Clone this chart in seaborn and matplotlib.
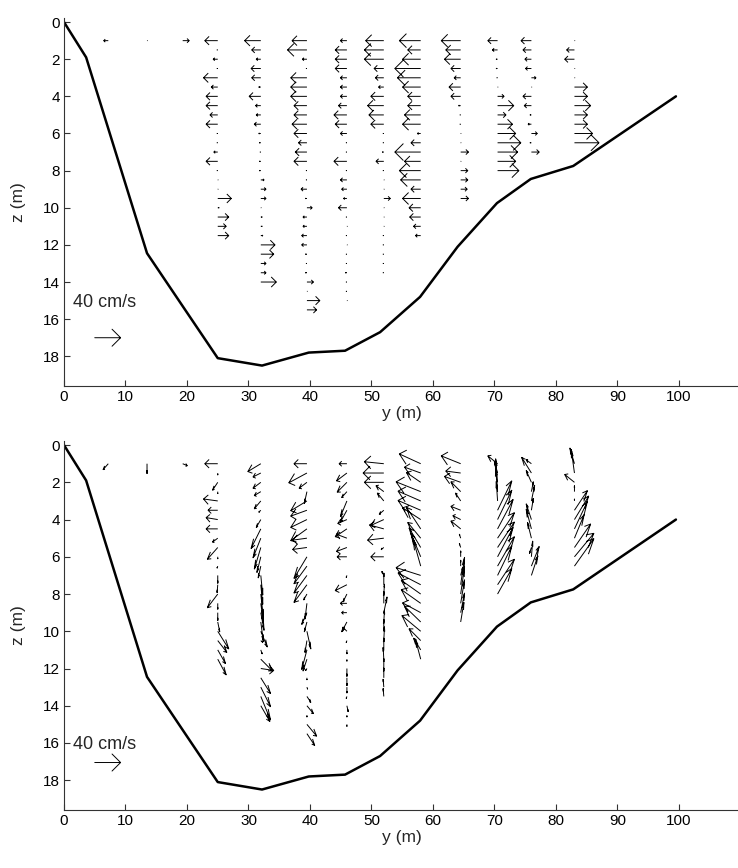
import numpy as np
import matplotlib
matplotlib.use("Agg")
import matplotlib.pyplot as plt
import seaborn as sns
import pandas as pd

# ---------------------------------------------------------------------------
# Channel cross-section (lateral position y, depth z), metres
bed_y = [0.0, 3.6, 13.5, 19.5, 25.0, 32.2, 39.8, 45.7, 51.4, 57.9, 64.0, 70.4, 75.9, 82.8, 99.5]
bed_z = [0.0, 1.9, 12.45, 15.4, 18.1, 18.5, 17.8, 17.7, 16.7, 14.8, 12.1, 9.75, 8.45, 7.75, 4.0]

# ADCP verticals: lateral station and deepest bin (bins every 0.5 m from 1 m)
station_y = [25.0, 32.0, 39.5, 46.0, 52.0, 58.0, 64.5, 70.5, 76.0, 83.0]
station_zmax = [11.5, 14.0, 15.5, 15.0, 13.5, 11.5, 9.5, 8.0, 7.0, 6.5]
BIN_TOP, BIN_STEP = 1.0, 0.5

# near-surface single points
surf_y = [7.2, 13.5, 19.3]
surf_z = [1.0, 1.0, 1.0]

# --- upper panel: lateral velocity only (cm/s)
surf_v_a = [-7, 0.5, 10]
v_a_25 = [-20, -1, -7, -1, -22, -10, -18, -18, -12, -18, -1, -1, -6, -18, -1, 0.5, 0.5, 21, 2, 17, 13, 17]
v_a_32 = [-25, -14, -7, -15, -14, -3, -18, -8, -7, -10, -3, -2, -1, -2, -2, 5, 8, 8, 0.5, 2, 2, 3, 22, 20, 8, 8, 24]
v_a_39 = [-23, -30, -7, -1, -25, -25, -25, -20, -20, -23, -20, -13, -18, -20, -1, -1, -9, -2, 8, -6,
          -6, -8, -8, -2, -1, -2, 10, 0.5, 20, 15]
v_a_46 = [-10, -18, -18, -18, -10, -10, -10, -13, -20, -18, -10, -1, -1, -20, -1, -10, -8, -5, -13, -1,
          0.5, -1, 0.5, -1, -1, -2, -1, -1, 0.5]
v_a_52 = [-28, -30, -30, -15, -13, -8, -20, -25, -23, -20, -1, -1, -2, -12, -1, 0.5, 0.5, 10, 0.5, 0.5,
          0.5, -1, -1, -1, -1, -1]
v_a_58 = [-33, -20, -28, -40, -36, -28, -20, -20, -25, -28, -5, -15, -40, -25, -33, -31, -15, -28, -18, -17,
          -11, -8]
v_a_64 = [-30, -23, -25, -15, -10, -18, -15, -3, -1, -1, 0.5, 0.5, 12, 0.5, 11, 11, 10, 12]
v_a_70 = [-15, -8, -2, -2, -1, 0.5, 10, 25, 13, 23, 28, 36, 31, 28, 33]
v_a_76 = [-16, -13, -10, -9, 7, 0.5, -13, -11, -2, -5, 9, -2, 12]
v_a_83 = [0.5, -12, -15, 0.5, 0.5, 20, 20, 25, 20, 20, 28, 38]

# --- lower panel: lateral velocity v and vertical velocity w (upward positive), cm/s
surf_v_b = [-8, 0, 7]
surf_w_b = [-3, -5, -1]
v_b_25 = [-20, 0, -8, 0, -22, -15, -18, -18, -8, -16, 0, -1, 0, -1, -16, 0, 0, 3, 17, 14, 12, 13]
w_b_25 = [0, -1, -4, -1, 1, 0, 1, 0, -2, -6, -1, -1, -4, -4, -7, -3, -4, -5, -9, -6, -7, -8]
v_b_32 = [-20, -12, -12, -10, -10, -3, -7, -15, -12, -10, -6, -4, 3, 3, 4, 4, 5, 4, 10, 3, 2, 18, 20, 15,
          15, 15, 14]
w_b_32 = [-4, -2, -3, -2, -4, -1, -4, -10, -10, -11, -8, -6, -10, -10, -12, -10, -9, -10, -8, -1, -2, -6,
          -1, -8, -10, -12, -8]
v_b_39 = [-20, -28, -12, -4, -25, -25, -25, -25, -22, -22, -20, -20, -20, -20, -5, -3, -8, -4, 6, -3,
          -8, -6, -2, 0, 1, 6, 10, 0, 15, 12]
w_b_39 = [0, -5, -3, -6, -5, -3, -4, -6, -1, -1, -11, -9, -9, -9, -3, -8, -6, -5, -9, -6,
          -10, -6, -1, -1, -1, -3, -4, -1, -6, -6]
v_b_46 = [-12, -16, -15, -8, -10, -10, -14, -18, -16, -16, -15, 0, -1, -18, -6, -10, -8, -8, -6, -1,
          0, 0, 0, 0, 0, -1, 2, 0, 0]
w_b_46 = [0, -4, -5, -3, -8, -6, -2, -4, 2, -2, 0, 0, -1, -3, -4, 0, 0, -5, 2, -1,
          -2, -1, -4, -4, -3, -1, -3, -1, -1]
v_b_52 = [-30, -32, -30, -12, -10, -7, -20, -22, -25, -4, -20, 0, -3, 0, 1, 0, 5, 1, 0, 1,
          0, -1, 0, 0, -1, -1]
w_b_52 = [1, 0, 0, 3, 4, -2, -3, 2, -1, -1, 0, 0, 2, 6, 5, 6, 8, 6, 6, 7,
          6, 6, 5, 5, 4, 4]
v_b_58 = [-33, -25, -22, -38, -35, -35, -28, -22, -20, -18, -15, -12, -38, -35, -30, -30, -28, -25, -29, -18,
          -11, -8]
w_b_58 = [5, 3, 5, 5, 5, 5, 6, 11, 8, 10, 12, 14, 4, 6, 7, 7, 5, 8, 8, 6,
          6, 10]
v_b_64 = [-30, -23, -25, -15, -8, -15, -12, -15, -2, -2, 0, 0, 3, 6, 6, 6, 6, 5]
w_b_64 = [4, 1, 3, 5, 4, 2, 2, 4, 2, 2, 3, 3, 4, 14, 14, 12, 10, 10]
v_b_70 = [-15, -5, -3, -3, -2, 22, 22, 24, 26, 26, 24, 26, 22, 26, 22]
w_b_70 = [4, 6, 12, 12, 10, 15, 15, 15, 13, 13, 15, 15, 15, 13, 13]
v_b_76 = [-8, -15, -8, 3, 5, 3, -8, -8, -6, -3, 2, 12, 10]
w_b_76 = [2, 8, 6, 5, 8, 6, 8, 10, 8, -3, 8, 10, 10]
v_b_83 = [-7, -5, -15, 0, 0, 20, 22, 20, 15, 25, 30, 30]
w_b_83 = [8, 12, 4, 3, 1, 10, 12, 14, 12, 12, 12, 14]

ref_speed = 40          # cm/s, scale arrow
ref_label = "40 cm/s"

# plot scale: metres of plot per cm/s
SCALE = 4.2 / ref_speed


def build_frame(v_lists, w_lists, sv, sw):
    rows = []
    for y0, zmax, vs, ws in zip(station_y, station_zmax, v_lists, w_lists):
        zs = np.arange(BIN_TOP, zmax + 1e-6, BIN_STEP)
        for z0, v, w in zip(zs, vs, ws):
            rows.append((y0, z0, v, w))
    rows += list(zip(surf_y, surf_z, sv, sw))
    return pd.DataFrame(rows, columns=["y", "z", "v", "w"])


def arrow_xy(df):
    """Arrow polylines (shaft + open head), quiver style in data coordinates."""
    alpha = beta = 0.33
    xs, zs = [], []
    for y0, z0, v, w in df[["y", "z", "v", "w"]].itertuples(index=False):
        du = v * SCALE
        dv = -w * SCALE          # depth axis points downward
        xt, zt = y0 + du, z0 + dv
        xs += [y0, xt, np.nan,
               xt - alpha * (du + beta * dv), xt, xt - alpha * (du - beta * dv), np.nan]
        zs += [z0, zt, np.nan,
               zt - alpha * (dv - beta * du), zt, zt - alpha * (dv + beta * du), np.nan]
    return np.array(xs), np.array(zs)


upper_v = [v_a_25, v_a_32, v_a_39, v_a_46, v_a_52, v_a_58, v_a_64, v_a_70, v_a_76, v_a_83]
upper = build_frame(upper_v, [[0] * len(a) for a in upper_v], surf_v_a, [0, 0, 0])
lower = build_frame([v_b_25, v_b_32, v_b_39, v_b_46, v_b_52, v_b_58, v_b_64, v_b_70, v_b_76, v_b_83],
                    [w_b_25, w_b_32, w_b_39, w_b_46, w_b_52, w_b_58, w_b_64, w_b_70, w_b_76, w_b_83],
                    surf_v_b, surf_w_b)
# scale-arrow position and label depth for each panel
reference = {"upper": (5.0, 17.0, 15.1), "lower": (5.0, 17.05, 16.1)}
bed = pd.DataFrame({"y": bed_y, "z": bed_z})

sns.set_theme(style="ticks")
plt.rcParams["font.family"] = ["Liberation Sans", "DejaVu Sans"]
plt.rcParams.update({
    "xtick.direction": "in", "ytick.direction": "in",
    "xtick.major.size": 4, "ytick.major.size": 4,
    "xtick.major.width": 0.8, "ytick.major.width": 0.8,
    "axes.linewidth": 0.8, "axes.edgecolor": "#333333",
    "xtick.color": "#333333", "ytick.color": "#333333",
    "xtick.labelcolor": "black", "ytick.labelcolor": "black",
})

fig = plt.figure(figsize=(7.38, 8.68), dpi=100)
W = 676.5 / 738
ax_top = fig.add_axes([64 / 738, 1 - 386 / 868, W, 368 / 868])
ax_bot = fig.add_axes([64 / 738, 1 - 810 / 868, W, 369 / 868])

for ax, df, key in [(ax_top, upper, "upper"), (ax_bot, lower, "lower")]:
    xs, zs = arrow_xy(df)
    ax.plot(xs, zs, color="black", lw=0.7, solid_capstyle="butt")
    sns.lineplot(data=bed, x="y", y="z", sort=False, estimator=None, color="black", lw=1.8, ax=ax)

    rx, rz, tz = reference[key]
    ref = pd.DataFrame({"y": [rx], "z": [rz], "v": [ref_speed], "w": [0]})
    rxs, rzs = arrow_xy(ref)
    ax.plot(rxs, rzs, color="black", lw=0.7)
    ax.text(1.5, tz, ref_label, fontsize=13, va="center", ha="left")

    ax.set_xlim(0, 110)
    ax.set_ylim(19.6, -0.22)
    ax.set_xticks(np.arange(0, 101, 10))
    ax.set_yticks(np.arange(0, 19, 2))
    ax.tick_params(labelsize=11, pad=3)
    ax.set_xlabel("y (m)", fontsize=12.5, labelpad=1)
    ax.set_ylabel("z (m)", fontsize=12.5, labelpad=12)
    sns.despine(ax=ax)

fig.savefig("out.png", dpi=100)
